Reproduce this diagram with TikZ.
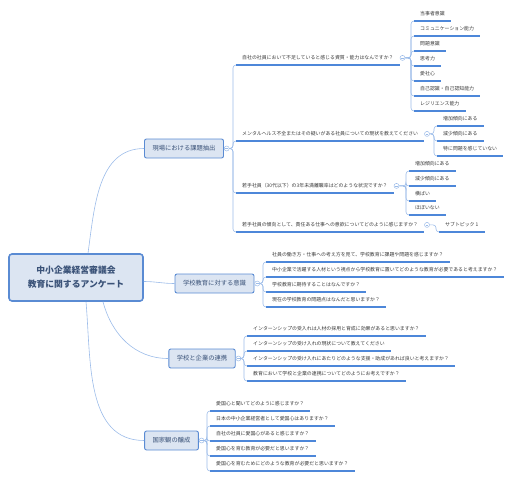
\documentclass[tikz,border=0pt]{standalone}
\usepackage{fontspec}
\setmainfont{Noto Sans CJK JP}
\usetikzlibrary{positioning}
\definecolor{boxfill}{HTML}{DCE5F2}
\definecolor{boxline}{HTML}{5A8BD3}
\definecolor{linkcol}{HTML}{9CBCE9}
\definecolor{barcol}{HTML}{4D87D9}
\definecolor{topictext}{HTML}{3A5278}

\begin{document}
\begin{tikzpicture}[x=1pt,y=-1pt,
 survey/.style={draw=boxline,line width=1.6pt,fill=boxfill,rounded corners=3pt,minimum width=134pt,minimum height=47pt,align=center,text=topictext,font=\fontsize{8.8}{14}\selectfont\bfseries},
 topic/.style={draw=boxline,line width=0.9pt,fill=boxfill,rounded corners=2pt,minimum height=19pt,inner xsep=8pt,text=topictext,font=\fontsize{6.3}{7}\selectfont},
 item/.style={anchor=south west,inner xsep=6pt,inner ysep=4.5pt,text height=3.6pt,text depth=1.2pt,text=black!78,font=\fontsize{4.9}{5}\selectfont},
 link/.style={linkcol,line width=0.6pt},
 bar/.style={barcol,line width=1.4pt},
 knob/.style={circle,draw=linkcol,fill=white,line width=0.5pt,minimum size=5pt,inner sep=0pt,
  path picture={\draw[linkcol,line width=0.4pt] ([xshift=-1.4pt]path picture bounding box.center)--([xshift=1.4pt]path picture bounding box.center);}}]
 \useasboundingbox (0,0) rectangle (516,479);

 \node[survey] (survey) at (76,277.5) {中小企業経営審議会\\教育に関するアンケート};
 \node[topic] (genba) at (184,148.5) {現場における課題抽出};
 \node[topic] (kyoiku) at (214.5,283.5) {学校教育に対する意識};
 \node[topic] (renkei) at (202,358.5) {学校と企業の連携};
 \node[topic] (kokka) at (171.5,440.5) {国家観の醸成};

 \node[item] (gq1) at (236,65) {自社の社員において不足していると感じる資質・能力はなんですか？};
 \node[item] (gq2) at (236,141) {メンタルヘルス不全またはその疑いがある社員についての現状を教えてください};
 \node[item] (gq3) at (236,193) {若手社員（30代以下）の3年未満離職率はどのような状況ですか？};
 \node[item] (gq4) at (236,232) {若手社員の傾向として、責任ある仕事への意欲についてどのように感じますか？};

 \node[item] (s1) at (414,21) {当事者意識};
 \node[item] (s2) at (414,36) {コミュニケーション能力};
 \node[item] (s3) at (414,51) {問題意識};
 \node[item] (s4) at (414,66) {思考力};
 \node[item] (s5) at (414,81) {愛社心};
 \node[item] (s6) at (414,96) {自己認識・自己認知能力};
 \node[item] (s7) at (414,111) {レジリエンス能力};
 \node[item] (m1) at (437,126) {増加傾向にある};
 \node[item] (m2) at (437,141) {減少傾向にある};
 \node[item] (m3) at (437,156) {特に問題を感じていない};
 \node[item] (r1) at (409,171) {増加傾向にある};
 \node[item] (r2) at (409,186) {減少傾向にある};
 \node[item] (r3) at (409,201) {横ばい};
 \node[item] (r4) at (409,215) {ほぼいない};
 \node[item] (t1) at (439,232) {サブトピック 1};

 \node[item] (e1) at (266,262) {社員の働き方・仕事への考え方を見て、学校教育に課題や問題を感じますか？};
 \node[item] (e2) at (266,277) {中小企業で活躍する人材という視点から学校教育に置いてどのような教育が必要であると考えますか？};
 \node[item] (e3) at (266,292) {学校教育に期待することはなんですか？};
 \node[item] (e4) at (266,307) {現在の学校教育の問題点はなんだと思いますか？};

 \node[item] (c1) at (247,336) {インターンシップの受入れは人材の採用と育成に効果があると思いますか？};
 \node[item] (c2) at (247,351) {インターンシップの受け入れの現状について教えてください};
 \node[item] (c3) at (247,366) {インターンシップの受け入れにあたりどのような支援・助成があれば良いと考えますか？};
 \node[item] (c4) at (247,381) {教育において学校と企業の連携についてどのようにお考えですか？};

 \node[item] (n1) at (210,411) {愛国心と聞いてどのように感じますか？};
 \node[item] (n2) at (210,426) {日本の中小企業経営者として愛国心はありますか？};
 \node[item] (n3) at (210,441) {自社の社員に愛国心があると感じますか？};
 \node[item] (n4) at (210,456) {愛国心を育む教育が必要だと思いますか？};
 \node[item] (n5) at (210,471) {愛国心を育むためにどのような教育が必要だと思いますか？};

 \node[knob,right=0pt of genba] (kg) {};
 \node[knob,right=0pt of kyoiku] (ke) {};
 \node[knob,right=0pt of renkei] (kc) {};
 \node[knob,right=0pt of kokka] (kn) {};
 \node[knob,right=0pt of gq1] (kq1) {};
 \node[knob,right=0pt of gq2] (kq2) {};
 \node[knob,right=0pt of gq3] (kq3) {};
 \node[knob,right=0pt of gq4] (kq4) {};

 \draw[link] ([xshift=12pt]survey.north) to[out=82,in=180] (genba.west);
 \draw[link] ([yshift=-4pt]survey.east) to[out=0,in=180] (kyoiku.west);
 \draw[link] ([xshift=27pt]survey.south) to[out=-75,in=180] (renkei.west);
 \draw[link] ([xshift=10pt]survey.south) to[out=-85,in=180] (kokka.west);

 \foreach \k/\c in {kg/gq1,kg/gq2,kg/gq3,kg/gq4,kq1/s1,kq1/s2,kq1/s3,kq1/s4,kq1/s5,kq1/s6,kq1/s7,
   kq2/m1,kq2/m2,kq2/m3,kq3/r1,kq3/r2,kq3/r3,kq3/r4,kq4/t1,ke/e1,ke/e2,ke/e3,ke/e4,
   kc/c1,kc/c2,kc/c3,kc/c4,kn/n1,kn/n2,kn/n3,kn/n4,kn/n5}
  \draw[link,rounded corners=3pt] (\k.east) -| ([xshift=-3pt]\c.south west) -- (\c.south west);
 \foreach \c in {gq1,gq2,gq3,gq4,s1,s2,s3,s4,s5,s6,s7,m1,m2,m3,r1,r2,r3,r4,t1,e1,e2,e3,e4,c1,c2,c3,c4,n1,n2,n3,n4,n5}
  \draw[bar] (\c.south west) -- (\c.south east);
\end{tikzpicture}
\end{document}
